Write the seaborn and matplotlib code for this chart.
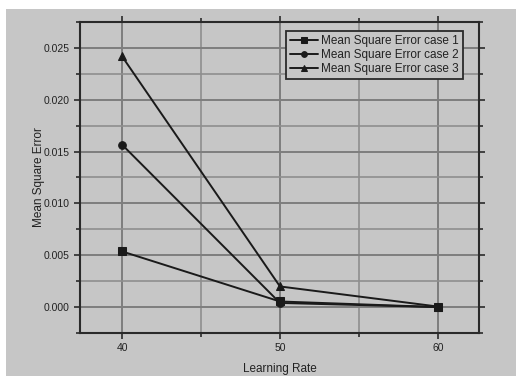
import matplotlib
matplotlib.use("Agg")
import matplotlib.pyplot as plt
import seaborn as sns
import pandas as pd
from matplotlib.patches import Rectangle
from matplotlib.ticker import MultipleLocator, FormatStrFormatter

learning_rate = [40, 50, 60]
case1 = [0.00537, 0.00054, 0.0]
case2 = [0.01567, 0.00040, 0.0]
case3 = [0.02419, 0.00199, 0.00005]
series_names = ["Mean Square Error case 1", "Mean Square Error case 2", "Mean Square Error case 3"]
markers = ["s", "o", "^"]

rows = []
for name, vals in zip(series_names, [case1, case2, case3]):
    for x, y in zip(learning_rate, vals):
        rows.append({"Learning Rate": x, "Mean Square Error": y, "series": name})
df = pd.DataFrame(rows)

sns.set_theme(style="ticks")
plt.rcParams['font.family'] = ['Liberation Sans', 'DejaVu Sans']

bg = "#c6c6c6"
fig = plt.figure(figsize=(5.16, 3.76), dpi=100)
fig.patch.set_facecolor("white")
fig.patches.append(Rectangle((6/516, 0), 1, 1 - 9/376, transform=fig.transFigure,
                             facecolor=bg, edgecolor="none", zorder=-10))
ax = fig.add_axes([80/516, 1 - 333/376, (479-80)/516, (333-22)/376])
ax.set_facecolor(bg)

sns.lineplot(data=df, x="Learning Rate", y="Mean Square Error", hue="series", style="series",
             markers=markers, dashes=False, palette=["#1a1a1a"]*3, linewidth=1.4,
             markersize=5.5, markeredgecolor="#1a1a1a", ax=ax, zorder=3)

ax.set_xlim(37.34, 62.6)
ax.set_ylim(-0.0025, 0.0275)
ax.xaxis.set_major_locator(MultipleLocator(10))
ax.xaxis.set_minor_locator(MultipleLocator(5))
ax.yaxis.set_major_locator(MultipleLocator(0.005))
ax.yaxis.set_minor_locator(MultipleLocator(0.0025))
ax.yaxis.set_major_formatter(FormatStrFormatter("%.3f"))
ax.grid(True, which="major", color="#7e7e7e", linewidth=1.4, zorder=1)
ax.grid(True, which="minor", color="#8e8e8e", linewidth=1.2, zorder=1)
ax.set_axisbelow(True)
for s in ax.spines.values():
    s.set_color("#2a2a2a")
    s.set_linewidth(1.5)
ax.tick_params(which="both", direction="out", top=True, right=True, color="#2a2a2a",
               labelsize=7.5, labelcolor="#222222", width=1.2)
ax.tick_params(which="major", length=4)
ax.tick_params(which="minor", length=3)
ax.set_xlabel("Learning Rate", fontsize=8.5, color="#222222", labelpad=7)
ax.set_ylabel("Mean Square Error", fontsize=8.5, color="#222222", labelpad=-1)

leg = ax.legend(loc="upper right", fontsize=8.5, frameon=True, fancybox=False,
                facecolor=bg, edgecolor="#2a2a2a", framealpha=1,
                borderpad=0.3, labelspacing=0.2, handlelength=2.4, handletextpad=0.3,
                borderaxespad=0.2, bbox_to_anchor=(0.965, 0.978), markerscale=0.75)
leg.get_frame().set_linewidth(1.3)
for t in leg.get_texts():
    t.set_color("#222222")

fig.savefig("out.png", dpi=100, facecolor=fig.get_facecolor())
